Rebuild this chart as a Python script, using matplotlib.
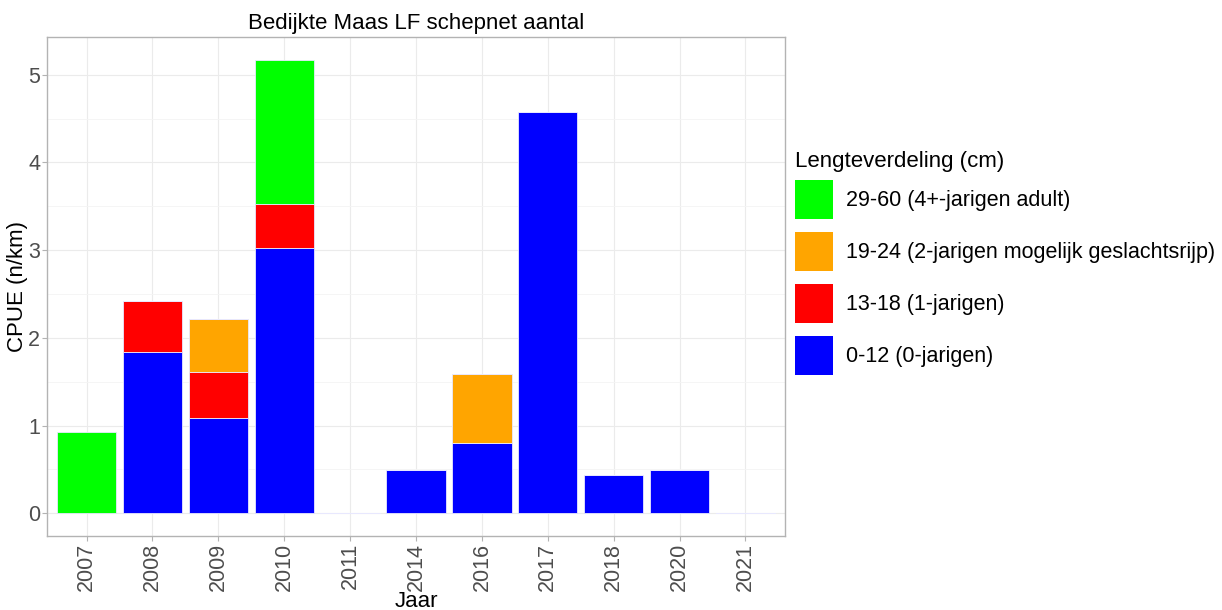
import numpy as np
import matplotlib
matplotlib.use("Agg")
import matplotlib.pyplot as plt
from matplotlib.patches import Patch

plt.rcParams['font.family'] = ['Liberation Sans', 'DejaVu Sans']

# data
years = ['2007', '2008', '2009', '2010', '2011', '2014', '2016', '2017', '2018', '2020', '2021']
cls_0_12 = [0.00, 1.84, 1.09, 3.02, 0.00, 0.49, 0.80, 4.58, 0.44, 0.49, 0.00]
cls_13_18 = [0.00, 0.58, 0.52, 0.51, 0.00, 0.00, 0.00, 0.00, 0.00, 0.00, 0.00]
cls_19_24 = [0.00, 0.00, 0.60, 0.00, 0.00, 0.00, 0.79, 0.00, 0.00, 0.00, 0.00]
cls_29_60 = [0.93, 0.00, 0.00, 1.64, 0.00, 0.00, 0.00, 0.00, 0.00, 0.00, 0.00]

labels = ['0-12 (0-jarigen)', '13-18 (1-jarigen)',
          '19-24 (2-jarigen mogelijk geslachtsrijp)', '29-60 (4+-jarigen adult)']
colours = ['#0000FF', '#FF0000', '#FFA500', '#00FF00']
series = [cls_0_12, cls_13_18, cls_19_24, cls_29_60]

fig = plt.figure(figsize=(12.22, 6.10), dpi=100)
W, H = 1222, 610
ax = fig.add_axes([47 / W, 1 - 536 / H, (785 - 47) / W, (536 - 37) / H])

x = np.arange(len(years))
bottom = np.zeros(len(years))
for vals, col in zip(series, colours):
    vals = np.array(vals)
    ax.bar(x, vals, width=0.9, bottom=bottom, color=col, edgecolor='#E8E8FF',
           linewidth=0.6, zorder=3)
    bottom += vals

ax.set_xlim(-0.6, len(years) - 0.4)
ax.set_ylim(-0.26, 5.43)
ax.set_xticks(x)
ax.set_xticklabels(years, rotation=90)
ax.set_yticks([0, 1, 2, 3, 4, 5])
ax.set_yticks([0.5, 1.5, 2.5, 3.5, 4.5], minor=True)
ax.tick_params(axis='both', which='major', labelsize=15.5, labelcolor='#4D4D4D',
               color='#B3B3B3', length=3.5, width=0.8, pad=1.5)
ax.tick_params(axis='y', which='minor', length=0)
ax.grid(which='major', color='#EBEBEB', linewidth=0.8, zorder=0)
ax.grid(which='minor', axis='y', color='#F4F4F4', linewidth=0.6, zorder=0)
ax.set_axisbelow(True)
for s in ax.spines.values():
    s.set_color('#B3B3B3')
    s.set_linewidth(1.0)

ax.set_xlabel('Jaar', fontsize=16)
ax.set_ylabel('CPUE (n/km)', fontsize=16)
ax.xaxis.set_label_coords(0.5, -0.11)
ax.yaxis.set_label_coords(-0.026, 0.5)
ax.set_title('Bedijkte Maas LF schepnet aantal', fontsize=16, pad=6)

handles = [Patch(facecolor=c, edgecolor='none') for c in colours[::-1]]
leg = fig.legend(handles, labels[::-1], loc='upper left',
                 bbox_to_anchor=(795 / W, 1 - 151 / H), frameon=False,
                 fontsize=15.5, title='Lengteverdeling (cm)', title_fontsize=16,
                 handlelength=1.77, handleheight=2.41, labelspacing=0.6,
                 handletextpad=0.6, borderpad=0, borderaxespad=0)
leg._legend_box.align = 'left'
leg._legend_box.sep = 6

fig.savefig('out.png', dpi=100)
